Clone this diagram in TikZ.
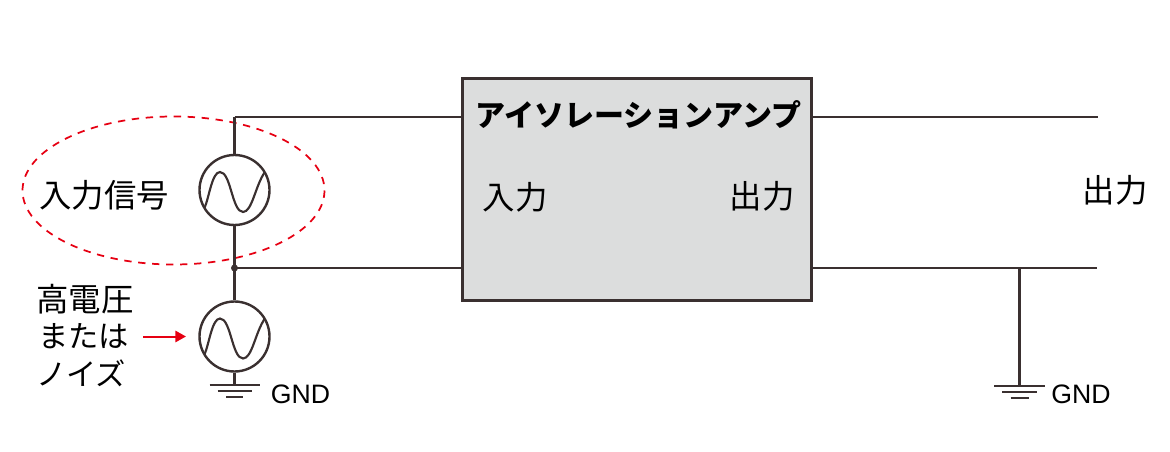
\documentclass[tikz,border=0pt]{standalone}
\usepackage{fontspec}
\setmainfont{Noto Sans CJK JP}
\newfontfamily\latinf{Liberation Sans}
\usetikzlibrary{arrows.meta}
\definecolor{wire}{HTML}{3A3030}
\definecolor{boxfill}{HTML}{DCDDDD}
\definecolor{redline}{HTML}{E60012}
\tikzset{
  wireline/.style={draw=wire,line width=1.65pt},
  vwire/.style={draw=wire,line width=1.55pt},
  source/.style={circle,draw=wire,line width=1.8pt,minimum size=52.5pt,inner sep=0pt},
  amp/.style={draw=wire,fill=boxfill,line width=2.3pt,minimum width=262pt,minimum height=166.5pt,inner sep=0pt},
  lab/.style={inner sep=0pt,text=black,font=\fontsize{24.3}{28}\selectfont},
  labs/.style={inner sep=0pt,text=black,font=\fontsize{22.7}{27}\selectfont},
  gndlab/.style={inner sep=0pt,text=black,font=\latinf\fontsize{20}{23}\selectfont},
  sinewave/.style={draw=wire,line width=1.6pt},
  gndbar/.style={draw=wire,line width=1.5pt},
}
\begin{document}
\begin{tikzpicture}[x=0.75pt,y=-0.75pt]
\useasboundingbox (0,0) rectangle (1170,452);
\node[amp] (amp) at (636.75,189.5) {};
\node[source] (s1) at (234.5,190) {};
\node[source] (s2) at (234.5,336.5) {};
\coordinate (top) at (234.5,117);
\coordinate (j) at (234.5,268);
\coordinate (ampinT) at (461,117);
\coordinate (ampinB) at (461,268);
\coordinate (ampoutT) at (812,117);
\coordinate (ampoutB) at (812,268);
\coordinate (outT) at (1098,117);
\coordinate (outB) at (1097,268);
\coordinate (g1) at (234.5,385);
\coordinate (g2t) at (1019.5,268);
\coordinate (g2) at (1019.5,386);
% ellipse
\draw[redline,line width=1.3pt,dash pattern=on 5.5pt off 5pt] (173.5,190.5) ellipse [x radius=151,y radius=74];
% wires
\draw[wireline] (top) -- (ampinT);
\draw[vwire] (s1.north) -- (top);
\draw[vwire] (s1.south) -- (j) -- (s2.north);
\draw[wireline] (j) -- (ampinB);
\draw[wireline] (ampoutT) -- (outT);
\draw[wireline] (ampoutB) -- (outB);
\draw[vwire] (s2.south) -- (g1);
\draw[vwire] (g2t) -- (g2);
\fill[wire] (j) circle (3.5);
% sine waves
\draw[sinewave] (204.5,208) .. controls (209,198) and (212,172) .. (220,172) .. controls (231,172) and (232,212) .. (243,212) .. controls (252,212) and (255,187) .. (264.5,172.5);
\draw[sinewave] (204.5,354.5) .. controls (209,344.5) and (212,318.5) .. (220,318.5) .. controls (231,318.5) and (232,358.5) .. (243,358.5) .. controls (252,358.5) and (255,333.5) .. (264.5,319);
% grounds
\draw[gndbar] (209.5,385) -- (260,385) (217.5,391) -- (252,391) (226,397) -- (243,397);
\draw[gndbar] (994,386) -- (1045,386) (1002,392) -- (1037,392) (1010.5,398) -- (1029,398);
% texts
\node[inner sep=0pt,text=black,font=\fontsize{22.5}{26}\selectfont\bfseries] (title) at (638.5,115) {アイソレーションアンプ};
\node[lab] (tin) at (515,197) {入力};
\node[lab] (tout) at (762,196) {出力};
\node[lab] (tright) at (1115,190) {出力};
\node[lab] (sig) at (104,195.5) {入力信号};
\node[lab] (hv1) at (85,299.5) {高電圧};
\node[labs] (hv2) at (83.5,336.5) {または};
\node[labs] (hv3) at (81,373) {ノイズ};
\node[gndlab] (g1l) at (300.5,394.5) {GND};
\node[gndlab] (g2l) at (1081,394.5) {GND};
\coordinate (arrs) at (143,336.5);
\coordinate (arre) at (186,336.5);
\draw[redline,line width=1.5pt,-{Triangle[length=8pt,width=8.5pt]}] (arrs) -- (arre);
\end{tikzpicture}
\end{document}
